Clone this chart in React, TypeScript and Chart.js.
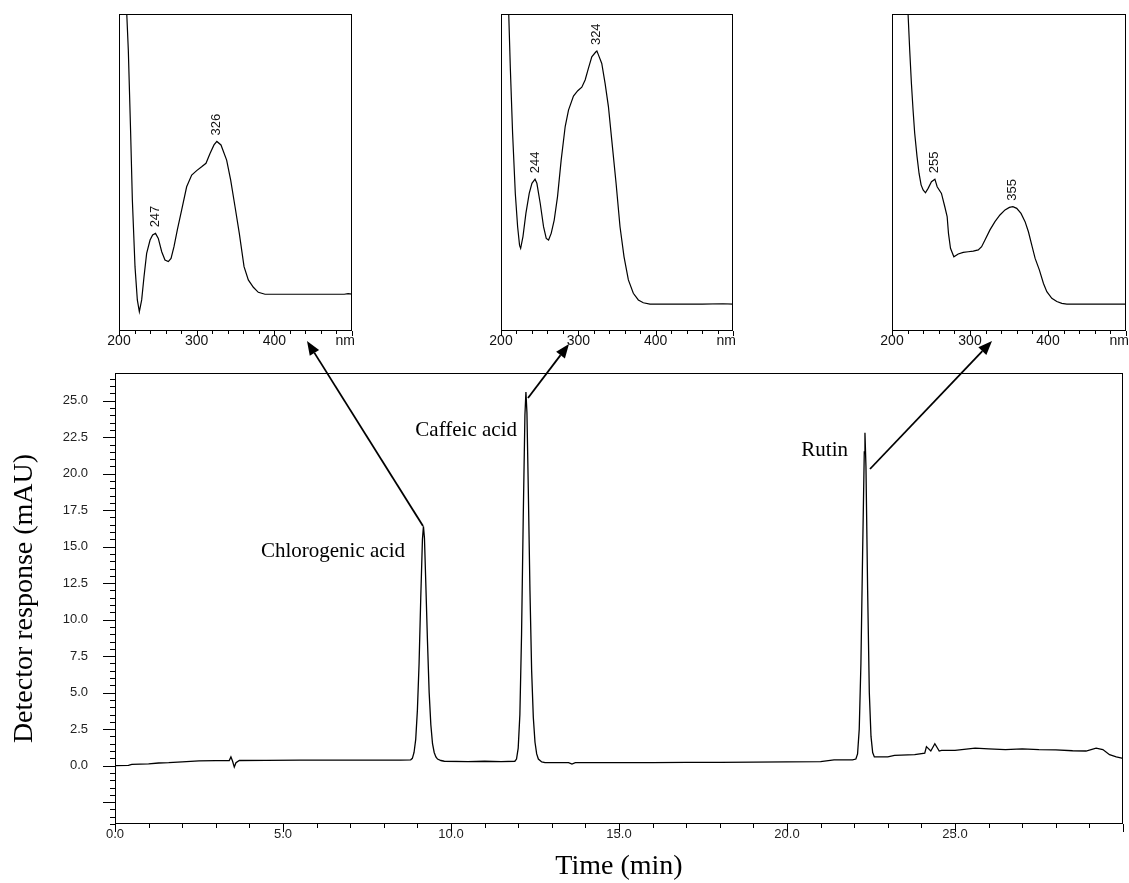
import React, { useEffect, useRef } from 'react';
import { Chart, registerables } from 'chart.js';

Chart.register(...registerables);

// ---------- Main chromatogram ----------
const timeMin = [
  0.0, 0.4, 0.5, 1.0, 1.3, 1.6, 2.0, 2.5, 3.0, 3.4, 3.45, 3.5, 3.55, 3.6, 3.7, 4.5, 5.5, 6.5, 7.5, 8.5, 8.8,
  8.85, 8.9, 8.95, 9.0, 9.05, 9.1, 9.15, 9.18, 9.21, 9.25, 9.3, 9.35, 9.4, 9.45, 9.5, 9.55, 9.6, 9.7, 9.8,
  10.5, 11.0, 11.5, 11.9, 11.95, 12.0, 12.05, 12.1, 12.15, 12.2, 12.23, 12.26, 12.3, 12.35, 12.4, 12.45, 12.5,
  12.55, 12.6, 12.7, 12.8, 13.5, 13.6, 13.7, 14.0, 15.0, 16.0, 17.0, 18.0, 19.0, 20.0, 21.0, 21.4, 21.95,
  22.05, 22.1, 22.15, 22.2, 22.25, 22.3, 22.32, 22.35, 22.4, 22.45, 22.5, 22.55, 22.6, 22.7, 23.0, 23.2, 23.8,
  24.1, 24.15, 24.28, 24.4, 24.53, 24.6, 25.0, 25.6, 26.0, 26.5, 27.0, 27.5, 28.0, 28.5, 28.9, 29.2, 29.4,
  29.6, 29.8, 30.0,
];
const responseMAU = [
  0.0, 0.02, 0.08, 0.12, 0.18, 0.2, 0.26, 0.32, 0.34, 0.35, 0.6, 0.3, -0.1, 0.2, 0.35, 0.36, 0.37, 0.37, 0.38, 0.38, 0.4,
  0.5, 0.9, 1.8, 3.8, 7.0, 11.5, 15.5, 16.4, 15.6, 12.5, 8.5, 5.0, 2.8, 1.5, 0.9, 0.6, 0.45, 0.35, 0.3,
  0.28, 0.3, 0.28, 0.3, 0.45, 1.2, 3.5, 9.0, 17.0, 24.0, 25.6, 24.2, 19.0, 12.0, 6.5, 3.3, 1.6,
  0.8, 0.45, 0.25, 0.2, 0.2, 0.1, 0.2, 0.2, 0.2, 0.2, 0.22, 0.22, 0.24, 0.26, 0.27, 0.39, 0.4,
  0.45, 0.8, 2.5, 7.0, 14.5, 21.5, 22.8, 20.5, 12.0, 5.0, 2.0, 0.9, 0.6, 0.6, 0.6, 0.7, 0.75,
  0.85, 1.3, 1.0, 1.5, 1.0, 1.05, 1.05, 1.2, 1.15, 1.1, 1.15, 1.1, 1.08, 1.02, 1.0, 1.2, 1.1,
  0.75, 0.6, 0.5,
];
const xTickValues = [0, 5, 10, 15, 20, 25];
const xTickLabels = ['0.0', '5.0', '10.0', '15.0', '20.0', '25.0'];
const yTickValues = [0, 2.5, 5, 7.5, 10, 12.5, 15, 17.5, 20, 22.5, 25];
const yTickLabels = ['0.0', '2.5', '5.0', '7.5', '10.0', '12.5', '15.0', '17.5', '20.0', '22.5', '25.0'];
const compoundNames = ['Chlorogenic acid', 'Caffeic acid', 'Rutin'];

// ---------- UV spectra (insets) ----------
const spec1Nm = [205, 210, 212, 215, 217.2, 220.6, 223.6, 226.2, 229.2, 232.2, 235.6, 240, 243.3, 247, 250.6, 255, 259.2, 263.5, 267, 270.8, 275.1, 280.7, 287.1, 293.6, 300, 306.4, 312, 317.2, 322.3, 326, 331.3, 338.6, 343.8, 349.4, 354.9, 361, 366.5, 373, 379.4, 388, 400, 450, 490, 495, 500];
const spec1Abs = [150, 100, 88.6, 62.4, 41.3, 20.3, 9.8, 6.1, 9.8, 17.1, 24.5, 28.7, 30.3, 30.8, 29.2, 25, 22.4, 21.9, 22.9, 26.6, 31.9, 38.2, 45.5, 49.2, 50.6, 51.8, 52.9, 56, 58.7, 59.8, 58.7, 53.9, 47.6, 39.2, 30.8, 20.3, 16.1, 13.8, 12.2, 11.6, 11.6, 11.6, 11.6, 11.8, 11.6];
const spec1Peaks = [247, 326];

const spec2Nm = [205, 210, 212, 215, 218.5, 221.5, 224, 225.4, 228.4, 232.2, 236.5, 240, 244, 246.4, 250.7, 255, 258.5, 261.5, 264.9, 268.8, 273.1, 277.8, 283, 287.3, 293.7, 299.3, 304.5, 308.8, 313.1, 317.4, 322.5, 324, 326, 330.3, 334.6, 338.9, 343.2, 348.8, 353.9, 359.1, 364.7, 371.1, 377.6, 384, 392.6, 420, 460, 487, 500];
const spec2Abs = [125, 100, 83.4, 62.4, 43.4, 32.9, 27, 26.1, 29.8, 37.1, 43.4, 46.6, 47.9, 46.6, 40.3, 32.9, 29.2, 28.7, 30.8, 35, 42.4, 53.9, 64.5, 69.7, 74.1, 75.8, 76.9, 79.2, 82.9, 86.5, 88, 88.3, 87.1, 84.4, 78.1, 70.8, 60.3, 46.6, 32.9, 23.4, 16.1, 11.9, 9.8, 8.9, 8.5, 8.5, 8.5, 8.6, 8.5];
const spec2Peaks = [244, 324];

const spec3Nm = [215, 220.6, 222.7, 224.9, 227, 229.1, 232.1, 234.7, 237.3, 239.9, 242.9, 246.3, 250.6, 255, 257.9, 263.4, 267.7, 270.7, 272.4, 275, 279.3, 284.9, 291.3, 297.7, 304.2, 310.6, 314.9, 319.2, 325.6, 332, 338.4, 344.9, 350.5, 355, 359.9, 365.4, 370.6, 374.9, 379.2, 383.5, 389, 394.2, 398.5, 404.9, 411.3, 417.7, 424.2, 460, 500];
const spec3Abs = [130, 100, 88.6, 78.1, 69.7, 62.4, 55, 49.7, 46.1, 44.5, 43.6, 45, 47.1, 47.9, 45.5, 43.4, 39.2, 36.1, 30.8, 26.1, 23.4, 24.3, 24.8, 25, 25.2, 25.6, 26.6, 28.7, 31.9, 34.5, 36.6, 38.2, 39, 39.2, 38.7, 37.1, 34.5, 31.3, 27.1, 22.9, 19.2, 15, 12.4, 10.3, 9.3, 8.7, 8.5, 8.5, 8.5];
const spec3Peaks = [255, 355];

const nmTickValues = [200, 300, 400];
const nmTickLabels = ['200', '300', '400'];
const nmUnitLabel = 'nm';

const SANS = '"Liberation Sans", Arial, Helvetica, sans-serif';
const SERIF = '"Liberation Serif", "Times New Roman", Times, serif';
const W = 1129;
const H = 883;

function interp(xs: number[], ys: number[], v: number) {
  for (let i = 0; i < xs.length - 1; i++) {
    if (v >= xs[i] && v <= xs[i + 1]) {
      const f = (v - xs[i]) / (xs[i + 1] - xs[i]);
      return ys[i] + f * (ys[i + 1] - ys[i]);
    }
  }
  return ys[ys.length - 1];
}

function drawArrow(ctx: CanvasRenderingContext2D, x1: number, y1: number, x2: number, y2: number) {
  const ang = Math.atan2(y2 - y1, x2 - x1);
  const hl = 14;
  const hw = 5.5;
  const bx = x2 - hl * Math.cos(ang);
  const by = y2 - hl * Math.sin(ang);
  ctx.beginPath();
  ctx.moveTo(x1, y1);
  ctx.lineTo(bx, by);
  ctx.lineWidth = 1.8;
  ctx.strokeStyle = '#000';
  ctx.stroke();
  ctx.beginPath();
  ctx.moveTo(x2, y2);
  ctx.lineTo(bx + hw * Math.sin(ang), by - hw * Math.cos(ang));
  ctx.lineTo(bx - hw * Math.sin(ang), by + hw * Math.cos(ang));
  ctx.closePath();
  ctx.fillStyle = '#000';
  ctx.fill();
}

function MainChart() {
  const ref = useRef<HTMLCanvasElement>(null);
  useEffect(() => {
    const canvas = ref.current!;
    const decor = {
      id: 'mainDecor',
      afterDraw(chart: any) {
        const { ctx, chartArea: a, scales } = chart;
        const xs = scales.x;
        const ys = scales.y;
        ctx.save();
        ctx.strokeStyle = '#000';
        ctx.lineWidth = 1;
        ctx.strokeRect(Math.round(a.left) + 0.5, Math.round(a.top) + 0.5, Math.round(a.right - a.left) - 1, Math.round(a.bottom - a.top) - 1);
        ctx.beginPath();
        for (let v = 0; v <= 30; v += 1) {
          const px = Math.round(xs.getPixelForValue(v)) + 0.5;
          const len = v % 5 === 0 ? 8 : 4;
          ctx.moveTo(px, a.bottom);
          ctx.lineTo(px, a.bottom + len);
        }
        for (let k = -8; k <= 53; k++) {
          const v = k * 0.5;
          const py = Math.round(ys.getPixelForValue(v)) + 0.5;
          const len = k % 5 === 0 ? 12 : 5;
          ctx.moveTo(a.left, py);
          ctx.lineTo(a.left - len, py);
        }
        ctx.stroke();
        drawArrow(ctx, 423, 526, 307, 341);
        drawArrow(ctx, 528, 398, 569, 344);
        drawArrow(ctx, 870, 469, 992, 341);
        ctx.fillStyle = '#000';
        ctx.font = `21px ${SERIF}`;
        ctx.textBaseline = 'alphabetic';
        ctx.textAlign = 'right';
        ctx.fillText(compoundNames[0], 405, 557);
        ctx.fillText(compoundNames[1], 517, 436);
        ctx.fillText(compoundNames[2], 848, 456);
        ctx.restore();
      },
    };
    const chart = new Chart(canvas, {
      type: 'line',
      data: {
        datasets: [
          {
            data: timeMin.map((t, i) => ({ x: t, y: responseMAU[i] })),
            borderColor: '#000',
            borderWidth: 1.3,
            pointRadius: 0,
            tension: 0,
            fill: false,
          },
        ],
      },
      options: {
        animation: false,
        responsive: false,
        maintainAspectRatio: false,
        layout: { padding: { left: 0, top: 373, right: 6, bottom: 0 } },
        plugins: { legend: { display: false }, tooltip: { enabled: false } },
        scales: {
          x: {
            type: 'linear',
            min: 0,
            max: 30,
            afterFit: (s: any) => { s.height = 59; },
            afterBuildTicks: (s: any) => { s.ticks = xTickValues.map((v) => ({ value: v })); },
            grid: { display: false, drawTicks: false },
            border: { display: false },
            ticks: {
              autoSkip: false,
              maxRotation: 0,
              padding: 3,
              color: '#222',
              font: { family: SANS, size: 13 },
              callback: (_v: any, i: number) => xTickLabels[i],
            },
            title: {
              display: true,
              text: 'Time (min)',
              color: '#000',
              font: { family: SERIF, size: 28 },
              padding: { top: 0, bottom: 0 },
            },
          },
          y: {
            type: 'linear',
            min: -4,
            max: 26.9,
            afterFit: (s: any) => { s.width = 115; },
            afterBuildTicks: (s: any) => { s.ticks = yTickValues.map((v) => ({ value: v })); },
            grid: { display: false, drawTicks: false },
            border: { display: false },
            ticks: {
              autoSkip: false,
              padding: 27,
              color: '#222',
              font: { family: SANS, size: 13 },
              callback: (_v: any, i: number) => yTickLabels[i],
            },
            title: {
              display: true,
              text: 'Detector response (mAU)',
              color: '#000',
              font: { family: SERIF, size: 28 },
              padding: { top: 8, bottom: 0 },
            },
          },
        },
      },
      plugins: [decor],
    } as any);
    return () => chart.destroy();
  }, []);
  return <canvas ref={ref} width={W} height={H} style={{ position: 'absolute', left: 0, top: 0, width: W, height: H }} />;
}

function Inset(props: { boxLeft: number; boxRight: number; nm: number[]; abs: number[]; peaks: number[] }) {
  const { boxLeft, boxRight, nm, abs, peaks } = props;
  const ref = useRef<HTMLCanvasElement>(null);
  const padL = 20;
  const padR = Math.min(20, W - boxRight);
  const cw = boxRight - boxLeft + padL + padR;
  const ch = 360;
  useEffect(() => {
    const canvas = ref.current!;
    const decor = {
      id: 'insetDecor',
      afterDraw(chart: any) {
        const { ctx, chartArea: a, scales } = chart;
        const xs = scales.x;
        const ys = scales.y;
        ctx.save();
        ctx.strokeStyle = '#000';
        ctx.lineWidth = 1;
        ctx.strokeRect(Math.round(a.left) + 0.5, Math.round(a.top) + 0.5, Math.round(a.right - a.left) - 1, Math.round(a.bottom - a.top) - 1);
        ctx.beginPath();
        for (let v = 200; v <= 500; v += 20) {
          const px = Math.round(xs.getPixelForValue(v)) + 0.5;
          const len = v % 100 === 0 ? 5 : 3;
          ctx.moveTo(px, a.bottom);
          ctx.lineTo(px, a.bottom + len);
        }
        ctx.stroke();
        ctx.fillStyle = '#111';
        ctx.font = `14px ${SANS}`;
        ctx.textAlign = 'right';
        ctx.textBaseline = 'middle';
        ctx.fillText(nmUnitLabel, xs.getPixelForValue(500) + 3, a.bottom + 2 + 8.4);
        ctx.font = `13px ${SANS}`;
        ctx.textAlign = 'left';
        for (const p of peaks) {
          const px = xs.getPixelForValue(p);
          const py = ys.getPixelForValue(interp(nm, abs, p));
          ctx.save();
          ctx.translate(px, py - 6);
          ctx.rotate(-Math.PI / 2);
          ctx.fillText(String(p), 0, 0);
          ctx.restore();
        }
        ctx.restore();
      },
    };
    const chart = new Chart(canvas, {
      type: 'line',
      data: {
        datasets: [
          {
            data: nm.map((w, i) => ({ x: w, y: abs[i] })),
            borderColor: '#000',
            borderWidth: 1.2,
            pointRadius: 0,
            tension: 0,
            fill: false,
          },
        ],
      },
      options: {
        animation: false,
        responsive: false,
        maintainAspectRatio: false,
        layout: { padding: { left: padL, top: 14, right: padR, bottom: 0 } },
        plugins: { legend: { display: false }, tooltip: { enabled: false } },
        scales: {
          x: {
            type: 'linear',
            min: 200,
            max: 500,
            afterFit: (s: any) => { s.height = ch - 331; },
            afterBuildTicks: (s: any) => { s.ticks = nmTickValues.map((v) => ({ value: v })); },
            grid: { display: false, drawTicks: false },
            border: { display: false },
            ticks: {
              autoSkip: false,
              maxRotation: 0,
              padding: 2,
              color: '#111',
              font: { family: SANS, size: 14 },
              callback: (_v: any, i: number) => nmTickLabels[i],
            },
          },
          y: { type: 'linear', min: 0, max: 100, display: false },
        },
      },
      plugins: [decor],
    } as any);
    return () => chart.destroy();
  }, []);
  return (
    <canvas
      ref={ref}
      width={cw}
      height={ch}
      style={{ position: 'absolute', left: boxLeft - padL, top: 0, width: cw, height: ch }}
    />
  );
}

export default function App() {
  return (
    <div style={{ position: 'absolute', left: 0, top: 0, width: W, height: H, overflow: 'hidden', background: '#fff' }}>
      <MainChart />
      <Inset boxLeft={119} boxRight={352} nm={spec1Nm} abs={spec1Abs} peaks={spec1Peaks} />
      <Inset boxLeft={501} boxRight={733} nm={spec2Nm} abs={spec2Abs} peaks={spec2Peaks} />
      <Inset boxLeft={892} boxRight={1126} nm={spec3Nm} abs={spec3Abs} peaks={spec3Peaks} />
    </div>
  );
}
